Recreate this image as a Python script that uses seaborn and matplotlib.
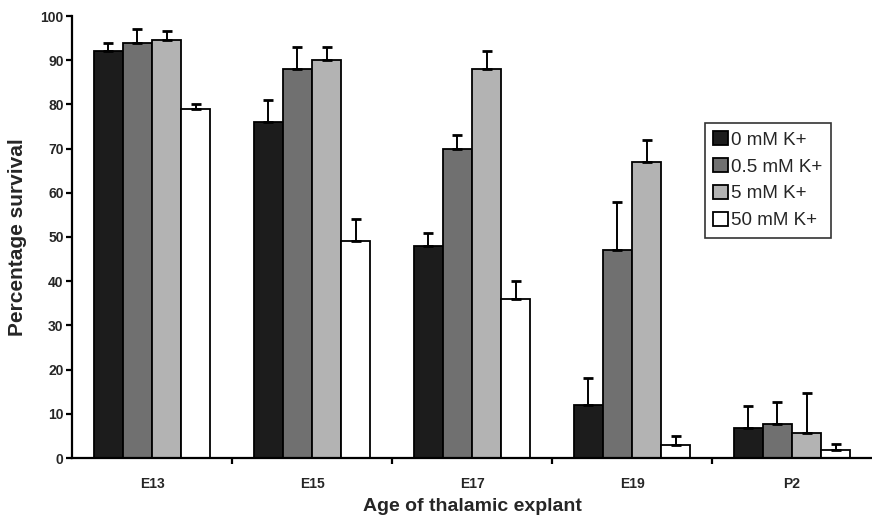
import matplotlib
matplotlib.use("Agg")
import matplotlib.pyplot as plt
import seaborn as sns
import pandas as pd
import numpy as np

ages = ["E13", "E15", "E17", "E19", "P2"]
conditions = ["0 mM K+", "0.5 mM K+", "5 mM K+", "50 mM K+"]
survival_0 = [92, 76, 48, 12, 6.7]
survival_05 = [94, 88, 70, 47, 7.6]
survival_5 = [94.5, 90, 88, 67, 5.7]
survival_50 = [79, 49, 36, 3, 1.7]
err_0 = [2, 5, 3, 6, 5]
err_05 = [3, 5, 3, 11, 5]
err_5 = [2, 3, 4, 5, 9]
err_50 = [1, 5, 4, 2, 1.4]

colors = ["#1c1c1c", "#707070", "#b3b3b3", "#ffffff"]

rows = []
for cond, vals, errs in zip(conditions,
                            [survival_0, survival_05, survival_5, survival_50],
                            [err_0, err_05, err_5, err_50]):
    for a, v, e in zip(ages, vals, errs):
        rows.append({"age": a, "cond": cond, "value": v, "err": e})
df = pd.DataFrame(rows)

sns.set_style("ticks")
plt.rcParams["font.family"] = ["Liberation Sans", "DejaVu Sans"]

fig = plt.figure(figsize=(8.72, 5.21), dpi=100)
ax = fig.add_axes([72 / 872, (521 - 458) / 521, (872 - 72) / 872, (458 - 16) / 521])

sns.barplot(data=df, x="age", y="value", hue="cond", order=ages, hue_order=conditions,
            palette=colors, width=0.73, edgecolor="black", linewidth=1.3,
            errorbar=None, ax=ax, saturation=1)

# upward error bars with caps
for cont, cond in zip(ax.containers, conditions):
    sub = df[df["cond"] == cond].set_index("age").loc[ages]
    xs = [p.get_x() + p.get_width() / 2 for p in cont.patches]
    hs = [p.get_height() for p in cont.patches]
    ax.errorbar(xs, hs, yerr=[np.zeros(len(hs)), sub["err"].values], fmt="none",
                ecolor="black", elinewidth=1.4, capsize=3.5, capthick=2, zorder=1)

ax.set_ylim(0, 100)
ax.set_xlim(-0.5, 4.5)
ax.set_yticks(range(0, 101, 10))
ax.set_xticks(range(5))
ax.set_xticklabels(ages)
ax.set_xticks([0.5, 1.5, 2.5, 3.5], minor=True)
ax.tick_params(axis="x", which="major", bottom=False, length=0, pad=14)
ax.tick_params(axis="x", which="minor", bottom=True, length=4, width=1.6, direction="out", color="black")
ax.tick_params(axis="y", left=True, length=4, width=1.6, direction="out", color="black", pad=2)
for lab in ax.get_xticklabels() + ax.get_yticklabels():
    lab.set_fontsize(10)
    lab.set_fontweight("bold")

for s in ["top", "right"]:
    ax.spines[s].set_visible(False)
for s in ["left", "bottom"]:
    ax.spines[s].set_linewidth(1.6)
    ax.spines[s].set_color("black")

ax.set_xlabel("Age of thalamic explant", fontsize=14, fontweight="bold", labelpad=5)
ax.set_ylabel("Percentage survival", fontsize=15, fontweight="bold", labelpad=10)

handles, labels = ax.get_legend_handles_labels()
leg = ax.legend(handles, labels, loc="upper left", bbox_to_anchor=((705 - 72) / 800, (458 - 123) / 442),
                frameon=True, fancybox=False, edgecolor="black", fontsize=13.5,
                handlelength=0.75, handleheight=0.75, handletextpad=0.2,
                labelspacing=0.5, borderpad=0.45, borderaxespad=0)
leg.get_frame().set_linewidth(1.2)

fig.savefig("out.png", dpi=100)
